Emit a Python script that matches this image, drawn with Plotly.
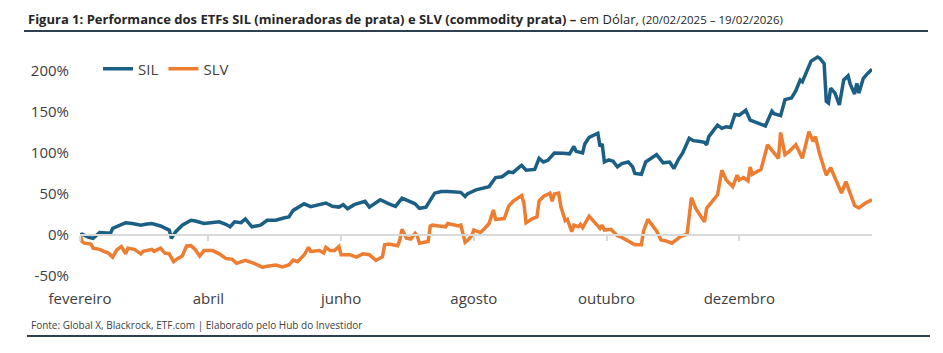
import plotly.graph_objects as go
import pandas as pd

# ---------------- data ----------------
START = "2025-02-20"
END = "2026-02-19"

# days since 20/02/2025 and cumulative performance (%)
sil_days = [0,1,4,6,9,14,15,21,24,28,
            30,33,37,39,41,42,44,47,51,53,
            57,60,64,67,69,71,74,76,79,81,
            83,86,90,94,96,98,101,103,106,110,
            113,116,119,121,123,126,131,133,138,142,
            145,148,151,154,156,159,163,166,169,172,
            175,177,178,182,186,188,191,194,197,199,
            202,203,205,209,211,213,215,218,222,225,
            227,228,231,232,234,237,238,239,240,241,
            243,245,247,249,252,254,255,258,260,265,
            268,271,273,275,277,280,282,285,287,288,
            289,293,295,297,299,301,303,306,308,311,
            315,318,319,322,324,327,329,331,332,336,
            339,340,342,343,344,345,347,349,351,353,
            354,356,357,358,360,362,364]
sil_vals = [0,1,-3,-4,3,2,8,15,14,12,
            13,14,11,9,6,-4,4,12,18,17,
            14,15,16,13,10,16,15,19.5,10,11,
            12,18,18,21,22,30,35,38,34.5,37,
            39,35,34,37,32,37,41,34,43,38,
            35,45,42,38,32.5,34,51,53,53,52,
            52,47,50,55,58,59,70,71,77,76,
            83,85,79,80,93.5,89,91,100,99.6,99,
            108,102,100,111,119,122,124,108,111,89,
            91.5,90,83,87,89,83,75,74,89,98,
            88,89,81,92,100,118,115,114,113,110,
            120,134,130,132,131,147,146,152,140,137,
            133,151,148,145.5,165,167,176,189,187,212,
            217,215.5,209,163,161,179,173,158.5,189,194,
            184,172,185,173,191,197,202]

slv_days = [0,1,2,5,6,9,11,13,15,17,
            19,21,22,25,28,29,33,34,37,39,
            41,43,45,47,49,51,53,55,57,61,
            64,67,70,72,76,80,84,86,90,92,
            93,96,98,100,103,105,106,110,112,113,
            115,117,119,120,124,127,130,133,136,139,
            140,142,146,147,148,150,152,154,155,156,
            160,161,162,165,168,169,172,174,175,177,
            178,180,181,184,186,188,190,191,195,197,
            199,201,203,204,205,208,210,211,213,216,
            217,218,220,221,223,224,226,227,229,230,
            231,234,237,239,240,241,244,247,249,251,
            253,255,258,259,261,263,265,267,269,272,
            274,276,279,281,283,285,287,288,293,295,
            297,300,302,303,305,307,308,309,313,316,
            318,321,322,324,326,329,332,334,335,337,
            338,340,343,345,350,352,356,358,361,364]
slv_vals = [0,-8,-10,-11,-16,-17.5,-20,-22,-27,-18,
            -14,-23,-16,-17.5,-23,-20,-17.5,-20,-16,-22,
            -23,-32.5,-28.5,-25.6,-13.4,-13,-18,-25.6,-19,-19,
            -23,-28.5,-29.7,-34.5,-31,-34.5,-39.4,-38,-36.6,-38.6,
            -39,-36.6,-30.5,-32.5,-24.4,-15,-20,-19,-22,-15,
            -19,-19,-14,-24,-24,-27,-23,-24,-31,-26.5,
            -12,-11,-13,-6,7,-4,-5,2,-1,-10,
            -8,11,12,11,10,14,12,11,12,-9,
            -7,-1,6,3,8,14,30.5,19,20,35,
            41,45,48,39,15,20,22,41.5,47,51,
            41,50,51,34.5,17.5,19,4,12,10,13,
            9,23,13,8,12,6,7,-1,-3,-6,
            -9,-12,-12,5,19,12,5,-6,-7,-10,
            -6,-2,1,45.5,32.5,24,16,32.5,49,79,
            67,59,73,67,70,66,83,74,80,110,
            104,93.5,125,98,102,110,93.5,114,126,114,
            120,98,73,82,51,65,36,33,39,43]

tick_dates = ["2025-02-20", "2025-04-20", "2025-06-20", "2025-08-20", "2025-10-20", "2025-12-20"]
tick_labels = ["fevereiro", "abril", "junho", "agosto", "outubro", "dezembro"]
y_ticks = [-50, 0, 50, 100, 150, 200]
y_labels = ["-50%", "0%", "50%", "100%", "150%", "200%"]

start = pd.Timestamp(START)
sil_dates = start + pd.to_timedelta(sil_days, unit="D")
slv_dates = start + pd.to_timedelta(slv_days, unit="D")

# ---------------- layout geometry ----------------
W, H = 943, 353
L, R, T, B = 80, 71, 48, 77
PW, PH = W - L - R, H - T - B
YMIN, YMAX = -50, 228

def px(x):
    return (x - L) / PW

def py(y):
    return (H - B - y) / PH

FONT = "Open Sans"
BLUE = "#1b5f84"
ORANGE = "#ed7d31"
TXT = "#404040"
DARK = "#2e3f4f"

fig = go.Figure()
fig.add_trace(go.Scatter(x=sil_dates, y=sil_vals, name="SIL", mode="lines",
                         line=dict(color=BLUE, width=3.5)))
fig.add_trace(go.Scatter(x=slv_dates, y=slv_vals, name="SLV", mode="lines",
                         line=dict(color=ORANGE, width=3.5)))
# carrier for the category axis drawn at 0%
fig.add_trace(go.Scatter(x=sil_dates, y=sil_vals, xaxis="x2", mode="lines",
                         opacity=0, showlegend=False, hoverinfo="skip"))

fig.update_layout(
    width=W, height=H,
    margin=dict(l=L, r=R, t=T, b=B),
    paper_bgcolor="white", plot_bgcolor="white",
    font=dict(family=FONT, color=TXT),
    showlegend=True,
    legend=dict(orientation="h", x=px(98), y=py(69), xanchor="left", yanchor="middle",
                font=dict(size=15, color=TXT), bgcolor="rgba(0,0,0,0)",
                itemwidth=30, tracegroupgap=0),
    xaxis=dict(type="date", range=[START, END], tickvals=tick_dates, ticktext=tick_labels,
               showgrid=False, zeroline=False, showline=False, ticks="",
               tickfont=dict(size=15, color=TXT), ticklabelstandoff=12),
    xaxis2=dict(type="date", range=[START, END], overlaying="x", anchor="free",
                position=(0 - YMIN) / (YMAX - YMIN),
                tickvals=tick_dates, showticklabels=False, showgrid=False, zeroline=False,
                showline=True, linecolor="#d9d9d9", linewidth=2,
                ticks="outside", ticklen=5, tickcolor="#d9d9d9", tickwidth=1.5),
    yaxis=dict(range=[YMIN, YMAX], tickvals=y_ticks, ticktext=y_labels,
               showgrid=False, zeroline=False, showline=False, ticks="",
               tickfont=dict(size=15, color=TXT), ticklabelstandoff=10),
)

title_text = ("<b>Figura 1: Performance dos ETFs SIL (mineradoras de prata) e SLV (commodity prata) –</b>"
              " em Dólar, <span style='font-size:11.5px'>(20/02/2025 – 19/02/2026)</span>")
fig.add_annotation(text=title_text, xref="paper", yref="paper", x=px(26), y=py(19),
                   xanchor="left", yanchor="middle", showarrow=False,
                   font=dict(family=FONT, size=13, color="#262626"))
fig.add_annotation(text="Fonte: Global X, Blackrock, ETF.com | Elaborado pelo Hub do Investidor",
                   xref="paper", yref="paper", x=px(29), y=py(325),
                   xanchor="left", yanchor="middle", showarrow=False,
                   font=dict(family=FONT, size=10, color=TXT))

fig.add_shape(type="line", xref="paper", yref="paper", x0=px(24), x1=px(928), y0=py(31), y1=py(31),
              line=dict(color=DARK, width=2))
fig.add_shape(type="line", xref="paper", yref="paper", x0=px(27), x1=px(930), y0=py(336), y1=py(336),
              line=dict(color=DARK, width=2))

fig.write_html("out.html")
